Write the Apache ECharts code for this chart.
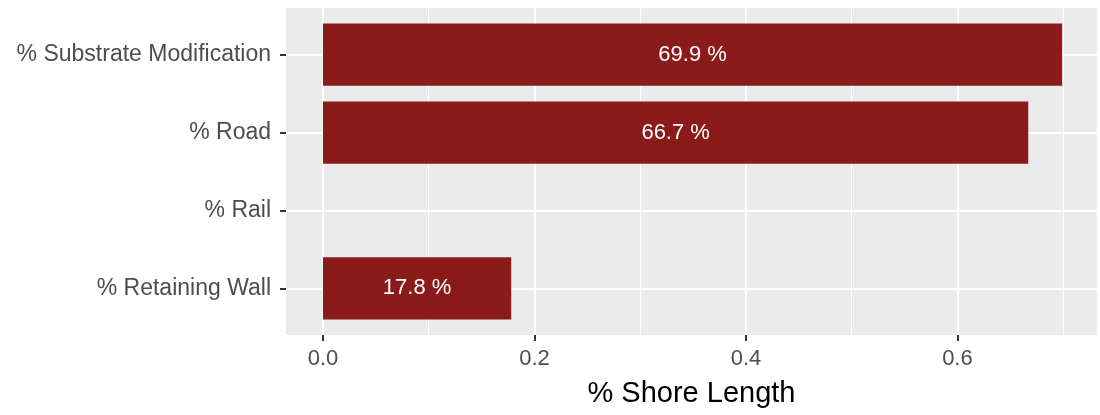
<!DOCTYPE html>
<html>
<head>
<meta charset="utf-8">
<script src="https://cdn.jsdelivr.net/npm/echarts@6/dist/echarts.min.js"></script>
<style>html,body{margin:0;padding:0;background:#fff}#c{width:1100px;height:415px}</style>
</head>
<body>
<div id="c"></div>
<script>
const categories = ['% Substrate Modification', '% Road', '% Rail', '% Retaining Wall'];
const values = [0.699, 0.667, 0, 0.178];
const labels = ['69.9 %', '66.7 %', '', '17.8 %'];
const xMajorTicks = [0, 0.2, 0.4, 0.6];
const xMinorTicks = [0.1, 0.3, 0.5, 0.7];
const xTitle = '% Shore Length';

const BAR = '#8B1A1A';
const FONT = '"Liberation Sans", Arial, sans-serif';
const catPositions = categories.map((c, i) => i + 1);
const data = values.map((v, i) => [v, i + 1, labels[i]]);

const chart = echarts.init(document.getElementById('c'), null, {renderer: 'canvas'});
chart.setOption({
  animation: false,
  backgroundColor: '#ffffff',
  grid: {left: 286, right: 3, top: 8, bottom: 80, show: true, backgroundColor: '#EBEBEB', borderWidth: 0},
  xAxis: [{
    type: 'value', min: -0.035, max: 0.732,
    axisLine: {show: false, onZero: false},
    axisTick: {show: true, customValues: xMajorTicks, length: 6, lineStyle: {color: '#333333', width: 2}},
    axisLabel: {show: true, customValues: xMajorTicks, formatter: v => v.toFixed(1), color: '#4D4D4D', fontSize: 22, fontFamily: FONT, margin: 13},
    splitLine: {show: true, lineStyle: {color: '#ffffff', width: 2}},
    name: xTitle, nameLocation: 'middle', nameGap: 44,
    nameTextStyle: {color: '#000000', fontSize: 29, fontFamily: FONT},
    z: 1
  }, {
    type: 'value', min: -0.035, max: 0.732, position: 'bottom',
    axisLine: {show: false, onZero: false},
    axisTick: {show: false, customValues: xMinorTicks},
    axisLabel: {show: false, customValues: xMinorTicks},
    splitLine: {show: true, lineStyle: {color: '#ffffff', width: 1}},
    z: 0
  }],
  yAxis: {
    type: 'value', min: 0.4, max: 4.6, inverse: true, position: 'left',
    axisLine: {show: false, onZero: false},
    axisTick: {show: true, customValues: catPositions, length: 6, lineStyle: {color: '#333333', width: 2}},
    axisLabel: {show: true, customValues: catPositions, formatter: v => categories[Math.round(v) - 1] || '', color: '#4D4D4D', fontSize: 23, fontFamily: FONT, margin: 15},
    splitLine: {show: true, lineStyle: {color: '#ffffff', width: 2}}
  },
  series: [{
    type: 'custom',
    xAxisIndex: 0,
    data: data,
    encode: {x: 0, y: 1},
    z: 5,
    renderItem: function (params, api) {
      const v = api.value(0);
      const c = api.value(1);
      if (!(v > 0)) return null;
      const start = api.coord([0, c]);
      const end = api.coord([v, c]);
      const h = Math.abs(api.size([0, 0.8])[1]);
      const txt = data[params.dataIndex][2];
      return {
        type: 'group',
        children: [{
          type: 'rect',
          shape: {x: start[0], y: start[1] - h / 2, width: end[0] - start[0], height: h},
          style: {fill: BAR}
        }, {
          type: 'text',
          x: (start[0] + end[0]) / 2, y: start[1],
          style: {text: txt, fill: '#ffffff', font: '22px ' + FONT, align: 'center', verticalAlign: 'middle'}
        }]
      };
    }
  }]
});
</script>
</body>
</html>
